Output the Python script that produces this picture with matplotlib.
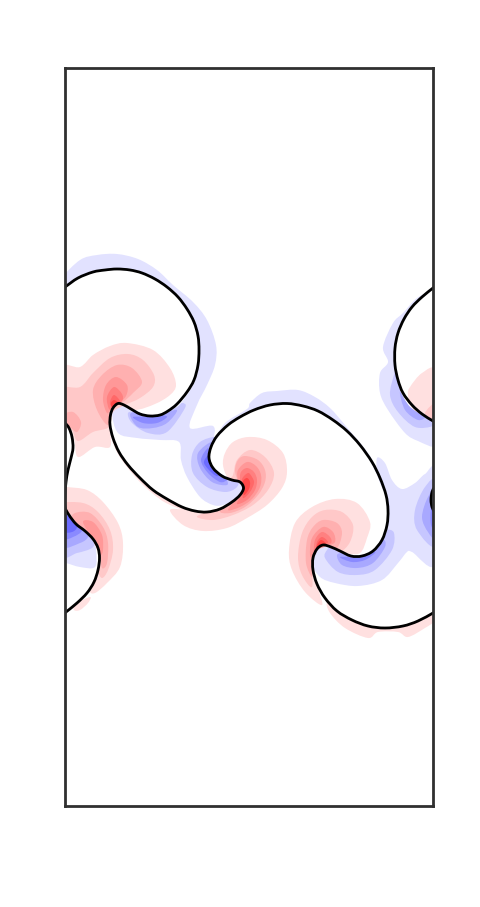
import matplotlib
matplotlib.use('Agg')
import matplotlib.pyplot as plt
from matplotlib.path import Path
from matplotlib.patches import PathPatch

# everything, in picture units
# interface lines
line_main = [(60,290),(65,287),(78,278),(93,272),(105,270),(117,269),(130,270),(142,273),(155,279),(167,287),(178,297),(187,309),(194,322),(198,336),(199,350),(198,365),(194,380),(187,392),(177,404),(168,411),(160,415),(150,416),(140,414),(131,409),(124,405),(118,403.5),(113,408),(110.5,415),(110,425),(113,438),(119,452),(128,465),(140,478),(153,490),(167,499),(182,507),(195,511),(207,512),(220,509),(232,502),(240,495),(243.5,488),(240,482),(232,480),(222,476),(213,468),(209,458),(211,447),(217,436),(228,425),(240,417),(254,410),(270,405),(287,403.5),(303,406),(318,411),(333,420),(347,431),(360,445),(372,462),(380,478),(386,495),(388,510),(387,525),(382,540),(373,551),(362,556),(351,556),(340,551),(331,547),(323,545),(317,549),(313,558),(313,570),(317,584),(325,598),(337,611),(352,620),(368,626),(385,628),(403,626),(418,621),(433,613),(438,610)]
line_right = [(438,284),(433,288),(422,297),(412,307),(404,319),(398,333),(395,348),(395,365),(398,380),(403,393),(412,405),(422,414),(433,421),(438,424)]
line_left = [(61,420),(65,423),(69,428),(72,437),(73,448),(71,458),(68,470),(66,482),(65,495),(65,507),(69,515),(76,524),(85,531),(93,539),(98,548),(99.5,558),(98,570),(94,582),(87,593),(77,603),(66,612),(61,616)]
line_wall = [(434,488),(432,492),(431,500),(432,507),(434,511)]

# red contour bands, weakest first
red1 = [
    [(60,369),(80,367),(93,355),(110,346),(127,343),(153,350),(170,368),(176,385),(170,395),(155,404),(135,410),(118,405),(111,415),(110,430),(110,447),(95,447),(78,457),(74,440),(65,425),(60,425)],
    [(248,437),(267,440),(283,453),(287,472),(282,488),(267,505),(247,518),(227,528),(203,531),(183,525),(170,510),(187,510),(207,512),(223,507),(237,498),(243,487),(238,481),(228,478),(223,465),(225,453),(233,442)],
    [(335,499),(357,503),(370,522),(367,538),(360,553),(345,553),(332,547),(323,545),(317,550),(312,563),(317,585),(322,605),(305,592),(292,570),(289,550),(295,523),(312,507)],
    [(62,486),(67,487),(87,490),(103,502),(118,523),(123,543),(120,567),(107,583),(95,593),(90,590),(98,570),(99,553),(93,540),(83,530),(72,520),(66,510),(62,505)],
    [(75,604),(90,597),(88,603),(80,610),(74,610)],
    [(330,613),(345,628),(368,638),(378,632),(398,632),(408,637),(425,628),(436,620),(436,611),(408,625),(388,628),(368,626),(348,618),(328,603)],
    [(436,371),(422,373),(410,387),(408,395),(413,409),(432,420),(436,422)],
    [(109.5,425),(112,440),(118,454),(127,467),(139,481),(152,493),(166,503),(186,511),(182,507),(167,499),(153,490),(140,478),(128,465),(119,452),(113,438)],
]
red2 = [
    [(60,389),(80,387),(93,373),(110,358),(128,354),(143,360),(154,375),(153,387),(140,398),(125,405),(113,412),(109,427),(93,432),(78,441),(72,430),(62,418)],
    [(250,450),(265,457),(274,473),(268,490),(253,505),(233,515),(213,520),(197,517),(207,512),(223,507),(237,498),(243,487),(238,481),(230,479),(233,475),(237,460)],
    [(325,510),(342,512),(353,525),(350,542),(340,552),(332,547),(323,545),(317,550),(312,563),(312,587),(302,575),(298,557),(302,533),(312,517)],
    [(62,503),(83,503),(98,512),(110,530),(113,550),(108,570),(102,578),(98,570),(99,553),(93,540),(83,530),(72,520),(66,510)],
    [(436,403),(425,413),(432,420),(436,422)],
]
red3 = [
    [(117,365),(132,368),(142,382),(133,393),(123,402),(113,407),(108,425),(97,410),(93,390),(102,375)],
    [(62,415),(73,412),(81,422),(77,432),(70,427),(62,420)],
    [(245,456),(258,460),(265,470),(265,482),(258,495),(245,507),(230,513),(220,511),(237,498),(243,487),(238,481),(235,470),(238,460)],
    [(323,520),(337,523),(342,533),(337,548),(327,545),(317,550),(312,563),(312,577),(306,563),(307,540),(313,527)],
    [(75,513),(90,513),(103,527),(108,543),(107,563),(102,568),(99,553),(93,540),(83,530),(72,520)],
]
red4 = [
    [(116,377),(127,385),(126,396),(118,404),(111,409),(107,413),(103,400),(106,385)],
    [(247,462),(256,466),(261,475),(260,487),(252,499),(240,507),(228,510),(237,498),(243,487),(238,480),(238,470)],
    [(323,527),(333,532),(335,542),(327,546),(317,550),(313,557),(310,555),(312,538)],
    [(83,522),(93,522),(102,535),(103,550),(101,555),(99,553),(93,540)],
]
red5 = [
    [(114,387),(122,394),(122,401),(113,407),(109,409),(107,397)],
    [(247,468),(254,472),(257,480),(255,490),(247,500),(237,504),(241,495),(243,487),(240,480),(241,472)],
    [(322,532),(330,537),(331,543),(323,545),(317,549),(314,553),(315,540)],
]
red6 = [
    [(114,395),(120,401),(117,404),(112,407),(110,402)],
    [(248,473),(252,477),(254,483),(250,492),(243,498),(243,487),(242,479)],
    [(322,537),(328,542),(323,545),(317,549),(317,542)],
]
red7 = [
    [(114,400),(118,403),(112,407),(111,403)],
    [(247,478),(250,482),(249,489),(244,495),(243,487),(243,481)],
    [(321,540),(326,544),(320,547),(316,550),(317,545)],
]

# blue contour bands, weakest first
blue1 = [
    [(62,278),(80,260),(97,255),(117,254),(138,259),(157,270),(173,285),(193,302),(207,320),(216,345),(215,365),(207,385),(197,405),(190,428),(213,426),(213,442),(209,457),(213,468),(225,477),(238,481),(243,487),(237,498),(223,505),(213,505),(200,497),(187,477),(181,460),(179,442),(160,440),(137,438),(118,433),(112,412),(118,403),(125,405),(137,412),(150,417),(160,415),(177,407),(192,387),(198,370),(199,348),(193,322),(180,298),(160,283),(140,273),(117,269),(93,272),(80,278),(65,287),(62,288)],
    [(215,440),(225,423),(247,409),(250,403),(262,393),(277,391),(298,390),(315,397),(330,408),(345,425),(368,453),(380,476),(390,500),(391,520),(388,517),(387,500),(378,477),(365,453),(345,430),(325,415),(305,406),(287,403),(267,406),(247,413),(227,427)],
    [(377,458),(385,463),(392,480),(402,489),(415,483),(425,474),(436,472),(436,563),(412,552),(407,552),(398,563),(382,580),(358,586),(335,583),(320,577),(312,563),(317,550),(323,545),(332,547),(345,553),(358,557),(372,552),(383,537),(388,517),(387,500),(378,477)],
    [(62,510),(72,520),(83,530),(93,540),(96,550),(95,567),(80,567),(66,563),(62,563)],
    [(436,288),(417,298),(403,313),(393,323),(383,347),(388,362),(380,373),(380,393),(388,410),(405,433),(418,441),(436,446),(436,422),(432,420),(410,407),(400,390),(395,367),(396,343),(403,320),(417,302),(432,288)],
]
blue2 = [
    [(128,413),(132,423),(148,433),(167,432),(185,408),(182,403),(177,407),(160,415),(150,417),(137,412)],
    [(214,437),(200,442),(192,455),(193,473),(207,487),(225,492),(236,488),(238,481),(225,477),(213,468),(209,457),(213,442)],
    [(327,550),(325,558),(338,572),(357,575),(375,570),(392,550),(394,533),(387,530),(383,537),(372,552),(358,557),(345,553),(332,547)],
    [(436,483),(425,487),(415,510),(417,530),(436,545)],
    [(62,510),(72,520),(83,530),(93,541),(92,548),(77,553),(62,555)],
    [(394,375),(390,395),(398,412),(415,427),(433,426),(432,420),(410,407),(400,390),(396,372)],
]
blue3 = [
    [(130,415),(138,427),(153,428),(167,423),(177,410),(160,415),(150,417),(137,412)],
    [(212,442),(198,453),(200,468),(212,482),(227,485),(225,477),(213,468),(209,457)],
    [(337,555),(342,565),(357,568),(373,563),(385,547),(383,540),(372,552),(358,557),(345,553)],
    [(436,492),(428,497),(422,517),(428,532),(436,537)],
    [(62,512),(72,520),(83,531),(88,537),(80,543),(62,546)],
    [(400,392),(405,410),(418,420),(425,416),(410,407)],
]
blue4 = [
    [(133,417),(143,423),(157,423),(167,417),(160,415),(150,417)],
    [(208,448),(201,460),(208,473),(220,482),(227,480),(225,477),(213,468),(209,457)],
    [(340,557),(352,562),(365,560),(375,553),(372,552),(358,557)],
    [(436,500),(431,510),(431,525),(436,530)],
    [(62,512),(72,520),(82,530),(73,537),(62,538)],
]
blue5 = [
    [(208,455),(204,463),(212,473),(218,476),(213,468),(209,457)],
    [(62,513),(72,520),(77,527),(72,532),(62,531)],
]

blue_bands = [blue1, blue2, blue3, blue4, blue5]
red_bands = [red1, red2, red3, red4, red5, red6, red7]
blue_colors = ['#e2e2ff', '#c6c6ff', '#a8a8ff', '#8a8aff', '#6c6cff']
red_colors = ['#ffe0e0', '#ffc8c8', '#ffb0b0', '#ff9898', '#ff8080', '#ff6868', '#ff4848']


def bezier_path(pts, closed):
    # cubic segments that go through every point
    n = len(pts)
    verts = [pts[0]]
    codes = [Path.MOVETO]
    last = n if closed else n-1
    for i in range(last):
        if closed:
            p0, p1, p2, p3 = pts[i-1], pts[i], pts[(i+1) % n], pts[(i+2) % n]
        else:
            p0, p1, p2, p3 = pts[max(i-1, 0)], pts[i], pts[i+1], pts[min(i+2, n-1)]
        c1 = (p1[0]+(p2[0]-p0[0])/6, p1[1]+(p2[1]-p0[1])/6)
        c2 = (p2[0]-(p3[0]-p1[0])/6, p2[1]-(p3[1]-p1[1])/6)
        verts += [c1, c2, p2]
        codes += [Path.CURVE4, Path.CURVE4, Path.CURVE4]
    return Path(verts, codes)


fig = plt.figure(figsize=(4.81, 9.07), dpi=100)
ax = fig.add_axes([64.5/481, 1-806/907, 368.5/481, 738/907])

for bands, colors in [(blue_bands, blue_colors), (red_bands, red_colors)]:
    for band, color in zip(bands, colors):
        for shape in band:
            ax.add_patch(PathPatch(bezier_path(shape, True), facecolor=color, edgecolor='none'))

for line in [line_main, line_right, line_left, line_wall]:
    ax.add_patch(PathPatch(bezier_path(line, False), facecolor='none', edgecolor='black', lw=2.0, capstyle='round'))

ax.set_xlim(64.5, 433)
ax.set_ylim(806, 68)
ax.set_xticks([])
ax.set_yticks([])
for s in ax.spines.values():
    s.set_linewidth(2.0)
    s.set_color('#303030')
    s.set_zorder(5)

plt.savefig('out.png', dpi=100)
